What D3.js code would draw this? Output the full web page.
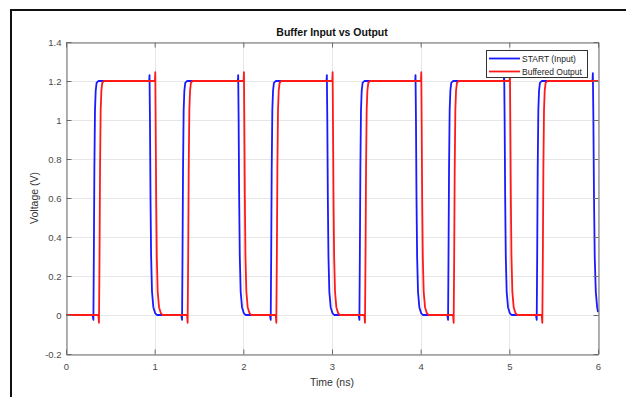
<!DOCTYPE html>
<html>
<head>
<meta charset="utf-8">
<script src="https://cdn.jsdelivr.net/npm/d3@7"></script>
<style>
  body { margin: 0; background: #fff; }
  svg { display: block; font-family: "Liberation Sans", Arial, sans-serif; }
</style>
</head>
<body>
<div id="chart"></div>
<script>
// Axis ticks
const xTicks = [0, 1, 2, 3, 4, 5, 6];
const yTicks = [-0.2, 0, 0.2, 0.4, 0.6, 0.8, 1, 1.2, 1.4];

// START (Input) waveform, [time ns, voltage V]
const inputWave = [
  [0, 0],
  [0.300, 0], [0.309, -0.025], [0.314, 0.3], [0.320, 0.75], [0.327, 1.05], [0.335, 1.15], [0.345, 1.19], [0.365, 1.2],
  [0.938, 1.2], [0.942, 1.23], [0.947, 1.0], [0.953, 0.6], [0.960, 0.3], [0.970, 0.12], [0.985, 0.04], [1.005, 0.01], [1.025, 0],
  [1.300, 0], [1.309, -0.025], [1.314, 0.3], [1.320, 0.75], [1.327, 1.05], [1.335, 1.15], [1.345, 1.19], [1.365, 1.2],
  [1.938, 1.2], [1.942, 1.23], [1.947, 1.0], [1.953, 0.6], [1.960, 0.3], [1.970, 0.12], [1.985, 0.04], [2.005, 0.01], [2.025, 0],
  [2.300, 0], [2.309, -0.025], [2.314, 0.3], [2.320, 0.75], [2.327, 1.05], [2.335, 1.15], [2.345, 1.19], [2.365, 1.2],
  [2.938, 1.2], [2.942, 1.23], [2.947, 1.0], [2.953, 0.6], [2.960, 0.3], [2.970, 0.12], [2.985, 0.04], [3.005, 0.01], [3.025, 0],
  [3.300, 0], [3.309, -0.025], [3.314, 0.3], [3.320, 0.75], [3.327, 1.05], [3.335, 1.15], [3.345, 1.19], [3.365, 1.2],
  [3.938, 1.2], [3.942, 1.23], [3.947, 1.0], [3.953, 0.6], [3.960, 0.3], [3.970, 0.12], [3.985, 0.04], [4.005, 0.01], [4.025, 0],
  [4.300, 0], [4.309, -0.025], [4.314, 0.3], [4.320, 0.75], [4.327, 1.05], [4.335, 1.15], [4.345, 1.19], [4.365, 1.2],
  [4.938, 1.2], [4.942, 1.23], [4.947, 1.0], [4.953, 0.6], [4.960, 0.3], [4.970, 0.12], [4.985, 0.04], [5.005, 0.01], [5.025, 0],
  [5.300, 0], [5.309, -0.025], [5.314, 0.3], [5.320, 0.75], [5.327, 1.05], [5.335, 1.15], [5.345, 1.19], [5.365, 1.2],
  [5.938, 1.2], [5.942, 1.24], [5.948, 1.0], [5.955, 0.6], [5.963, 0.3], [5.975, 0.12], [5.990, 0.04], [6.000, 0.015]
];

// Buffered Output waveform
const outputWave = [
  [0, 0],
  [0.365, 0], [0.372, -0.04], [0.378, 0.3], [0.384, 0.75], [0.391, 1.05], [0.399, 1.15], [0.409, 1.19], [0.428, 1.2],
  [1.003, 1.2], [1.007, 1.245], [1.011, 1.0], [1.017, 0.6], [1.024, 0.3], [1.034, 0.12], [1.049, 0.04], [1.069, 0.01], [1.090, 0],
  [1.365, 0], [1.372, -0.04], [1.378, 0.3], [1.384, 0.75], [1.391, 1.05], [1.399, 1.15], [1.409, 1.19], [1.428, 1.2],
  [2.003, 1.2], [2.007, 1.245], [2.011, 1.0], [2.017, 0.6], [2.024, 0.3], [2.034, 0.12], [2.049, 0.04], [2.069, 0.01], [2.090, 0],
  [2.365, 0], [2.372, -0.04], [2.378, 0.3], [2.384, 0.75], [2.391, 1.05], [2.399, 1.15], [2.409, 1.19], [2.428, 1.2],
  [3.003, 1.2], [3.007, 1.245], [3.011, 1.0], [3.017, 0.6], [3.024, 0.3], [3.034, 0.12], [3.049, 0.04], [3.069, 0.01], [3.090, 0],
  [3.365, 0], [3.372, -0.04], [3.378, 0.3], [3.384, 0.75], [3.391, 1.05], [3.399, 1.15], [3.409, 1.19], [3.428, 1.2],
  [4.003, 1.2], [4.007, 1.245], [4.011, 1.0], [4.017, 0.6], [4.024, 0.3], [4.034, 0.12], [4.049, 0.04], [4.069, 0.01], [4.090, 0],
  [4.365, 0], [4.372, -0.04], [4.378, 0.3], [4.384, 0.75], [4.391, 1.05], [4.399, 1.15], [4.409, 1.19], [4.428, 1.2],
  [5.003, 1.2], [5.007, 1.245], [5.011, 1.0], [5.017, 0.6], [5.024, 0.3], [5.034, 0.12], [5.049, 0.04], [5.069, 0.01], [5.090, 0],
  [5.365, 0], [5.372, -0.04], [5.378, 0.3], [5.384, 0.75], [5.391, 1.05], [5.399, 1.15], [5.409, 1.19], [5.428, 1.2],
  [6.000, 1.2]
];

const seriesNames = ['START (Input)', 'Buffered Output'];
const seriesColors = ['#1a1aff', '#ff1a1a'];

const width = 626, height = 397;
const margin = { left: 66, right: 28, top: 42, bottom: 43 };

const svg = d3.select('#chart').append('svg')
    .attr('width', width)
    .attr('height', height);

// outer frame of the figure window
svg.append('rect')
    .attr('x', 11).attr('y', 10)
    .attr('width', 640).attr('height', 420)
    .attr('fill', 'none')
    .attr('stroke', '#111')
    .attr('stroke-width', 2);

const x = d3.scaleLinear().domain([0, 6]).range([margin.left, width - margin.right]);
const y = d3.scaleLinear().domain([-0.2, 1.4]).range([height - margin.bottom, margin.top]);

const x0 = x.range()[0], x1 = x.range()[1];
const y0 = y.range()[0], y1 = y.range()[1];

// grid
const grid = svg.append('g').attr('stroke', '#e6e6e6').attr('stroke-width', 1);
grid.selectAll('.gx').data(xTicks).enter().append('line')
    .attr('x1', d => Math.round(x(d)) + 0.5).attr('x2', d => Math.round(x(d)) + 0.5)
    .attr('y1', y1).attr('y2', y0);
grid.selectAll('.gy').data(yTicks).enter().append('line')
    .attr('y1', d => Math.round(y(d)) + 0.5).attr('y2', d => Math.round(y(d)) + 0.5)
    .attr('x1', x0).attr('x2', x1);

// waveforms
const line = d3.line().x(d => x(d[0])).y(d => y(d[1]));
const plot = svg.append('g');
[inputWave, outputWave].forEach((w, i) => {
    plot.append('path')
        .attr('d', line(w))
        .attr('fill', 'none')
        .attr('stroke', seriesColors[i])
        .attr('stroke-width', 1.8)
        .attr('stroke-linejoin', 'round');
});

// axes (MATLAB style box with inward ticks)
const axisColor = '#6b6b6b';
const tickLen = 5;
const axisFont = 9.5;

const axBottom = svg.append('g').attr('transform', `translate(0,${y0 + 0.5})`)
    .call(d3.axisBottom(x).tickValues(xTicks).tickSizeInner(-tickLen).tickSizeOuter(0).tickPadding(9).tickFormat(d3.format('d')));
const axTop = svg.append('g').attr('transform', `translate(0,${y1 + 0.5})`)
    .call(d3.axisTop(x).tickValues(xTicks).tickSizeInner(-tickLen).tickSizeOuter(0).tickFormat(''));
const axLeft = svg.append('g').attr('transform', `translate(${x0 + 0.5},0)`)
    .call(d3.axisLeft(y).tickValues(yTicks).tickSizeInner(-tickLen).tickSizeOuter(0).tickPadding(9).tickFormat(d => String(+d.toFixed(1))));
const axRight = svg.append('g').attr('transform', `translate(${x1 + 0.5},0)`)
    .call(d3.axisRight(y).tickValues(yTicks).tickSizeInner(-tickLen).tickSizeOuter(0).tickFormat(''));

[axBottom, axTop, axLeft, axRight].forEach(g => {
    g.select('.domain').attr('stroke', axisColor);
    g.selectAll('.tick line').attr('stroke', axisColor);
    g.selectAll('.tick text').attr('fill', '#4a4a4a').attr('font-size', axisFont)
        .attr('font-family', '"Liberation Sans", Arial, sans-serif');
});
axLeft.selectAll('.tick text').attr('dx', '4');

// title and labels
svg.append('text')
    .attr('x', (x0 + x1) / 2).attr('y', 36)
    .attr('text-anchor', 'middle')
    .attr('font-size', 10.5).attr('font-weight', 'bold')
    .attr('fill', '#111')
    .text('Buffer Input vs Output');

svg.append('text')
    .attr('x', (x0 + x1) / 2).attr('y', 386)
    .attr('text-anchor', 'middle')
    .attr('font-size', 10.5)
    .attr('fill', '#333')
    .text('Time (ns)');

svg.append('text')
    .attr('transform', `translate(38,${(y0 + y1) / 2}) rotate(-90)`)
    .attr('text-anchor', 'middle')
    .attr('font-size', 10.5)
    .attr('fill', '#333')
    .text('Voltage (V)');

// legend
const legend = svg.append('g').attr('transform', 'translate(486,50)');
legend.append('rect')
    .attr('x', 0.5).attr('y', 0.5)
    .attr('width', 101).attr('height', 27)
    .attr('fill', '#fff')
    .attr('stroke', '#333')
    .attr('stroke-width', 1);
seriesNames.forEach((name, i) => {
    const ly = 8.5 + i * 13;
    legend.append('line')
        .attr('x1', 3).attr('x2', 34)
        .attr('y1', ly).attr('y2', ly)
        .attr('stroke', seriesColors[i])
        .attr('stroke-width', 1.8);
    legend.append('text')
        .attr('x', 36).attr('y', ly + 3)
        .attr('font-size', 8.5)
        .attr('fill', '#222')
        .text(name);
});
</script>
</body>
</html>
